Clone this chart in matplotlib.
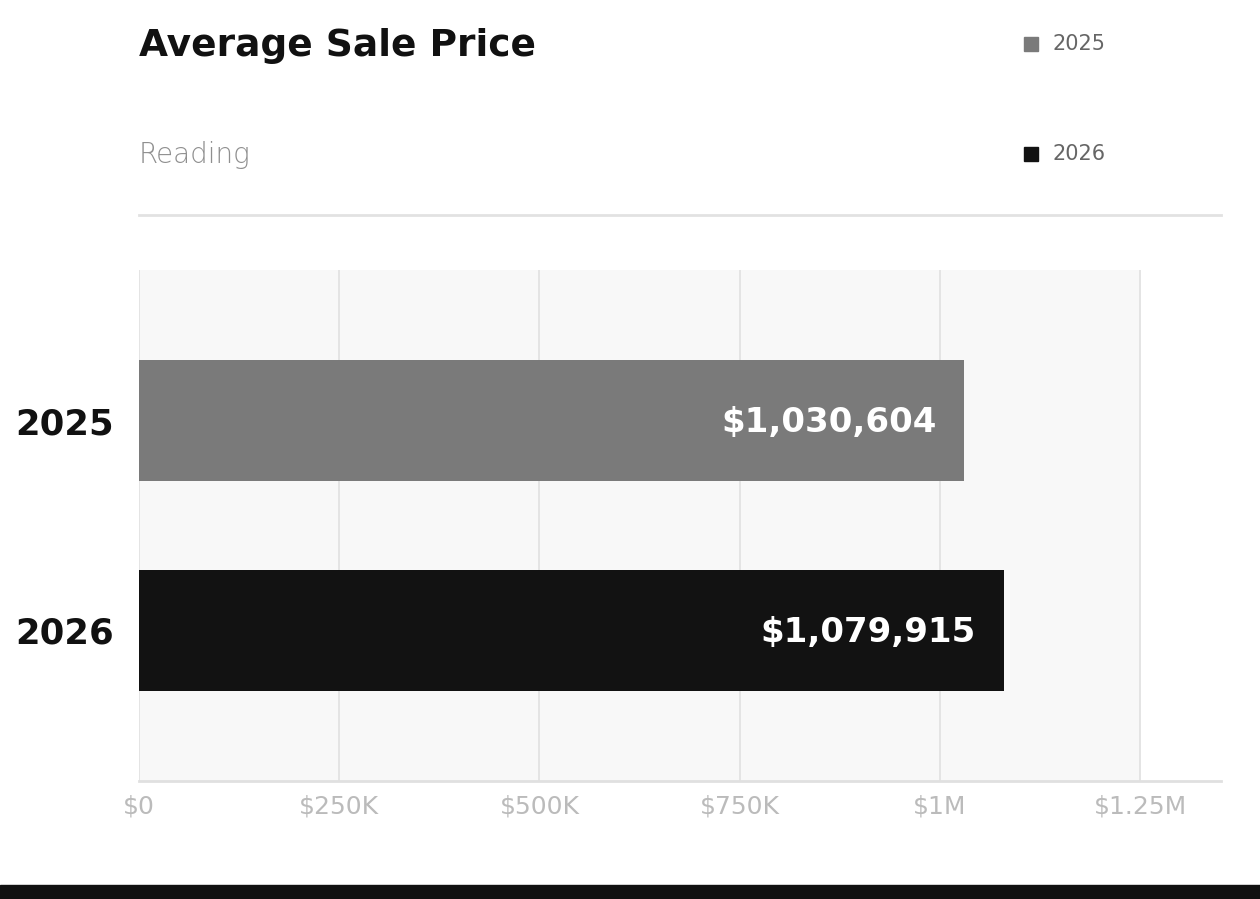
import matplotlib
matplotlib.use("Agg")
import matplotlib.pyplot as plt
from matplotlib.patches import Rectangle
from matplotlib.lines import Line2D
from matplotlib.ticker import FuncFormatter

# ----------------------------------------------------
# DATA
# ----------------------------------------------------
years = ["2025", "2026"]
avg_price = [1030604, 1079915]
bar_colors = ["#7a7a7a", "#121212"]
x_ticks = [0, 250000, 500000, 750000, 1000000, 1250000]
x_tick_labels = ["$0", "$250K", "$500K", "$750K", "$1M", "$1.25M"]
title = "Average Sale Price"
subtitle = "Reading"

W, H = 1260, 899
FONT = "DejaVu Sans"

fig = plt.figure(figsize=(W / 100, H / 100), dpi=100)
fig.patch.set_facecolor("white")

# axes placed in pixel coords
left, right, top, bottom = 139, 1221, 270, 781
ax = fig.add_axes([left / W, 1 - bottom / H, (right - left) / W, (bottom - top) / H])
ax.set_facecolor("white")

# light background panel up to last tick
ax.axvspan(0, x_ticks[-1], color="#f8f8f8", zorder=0, lw=0)
for t in x_ticks:
    ax.axvline(t, color="#e2e2e2", lw=1.3, zorder=1)

ypos = list(range(len(years)))
ax.barh(ypos, avg_price, height=0.576, color=bar_colors, zorder=2)

for y, v in zip(ypos, avg_price):
    ax.text(v - 28 * 1.351e6 / (right - left), y + 0.01, f"${v:,}", ha="right", va="center",
            color="white", fontsize=24.5, fontweight="bold", family=FONT, zorder=3)

ax.set_xlim(0, 1.351e6)
ax.set_ylim(1.717, -0.717)
ax.set_yticks(ypos)
ax.set_yticklabels(years, fontsize=25.5, fontweight="bold", color="#111111", family=FONT)
ax.set_xticks(x_ticks)
ax.xaxis.set_major_formatter(FuncFormatter(lambda v, p: x_tick_labels[x_ticks.index(int(v))] if int(v) in x_ticks else ""))
ax.tick_params(axis="x", length=0, pad=10, labelsize=18, labelcolor="#bbbbbb")
ax.tick_params(axis="y", length=0, pad=18)
for lab in ax.get_xticklabels():
    lab.set_family(FONT)

for s in ["top", "right", "left"]:
    ax.spines[s].set_visible(False)
ax.spines["bottom"].set_color("#e0e0e0")
ax.spines["bottom"].set_linewidth(2)
ax.spines["bottom"].set_zorder(4)

# ----------------------------------------------------
# HEADER
# ----------------------------------------------------
fig.text(139 / W, 1 - 46 / H, title, ha="left", va="center", fontsize=27,
         fontweight="bold", color="#111111", family=FONT)
fig.text(139 / W, 1 - 155 / H, subtitle, ha="left", va="center", fontsize=20,
         color="#8f8f8f", family=FONT, fontweight="light")
fig.add_artist(Line2D([139 / W, 1221 / W], [1 - 215 / H] * 2, color="#e2e2e2", lw=2))

# legend (manual, spaced vertically)
for i, (yr, c) in enumerate(zip(years, bar_colors)):
    yc = 44 + i * 110
    fig.add_artist(Rectangle(((1024) / W, 1 - (yc + 7) / H), 14 / W, 14 / H,
                             color=c, transform=fig.transFigure))
    fig.text(1052 / W, 1 - yc / H, yr, ha="left", va="center", fontsize=15,
             color="#666666", family=FONT)

# bottom dark band
fig.add_artist(Rectangle((0, 0), 1, 14 / H, color="#111111", transform=fig.transFigure))

fig.savefig("out.png", dpi=100)
